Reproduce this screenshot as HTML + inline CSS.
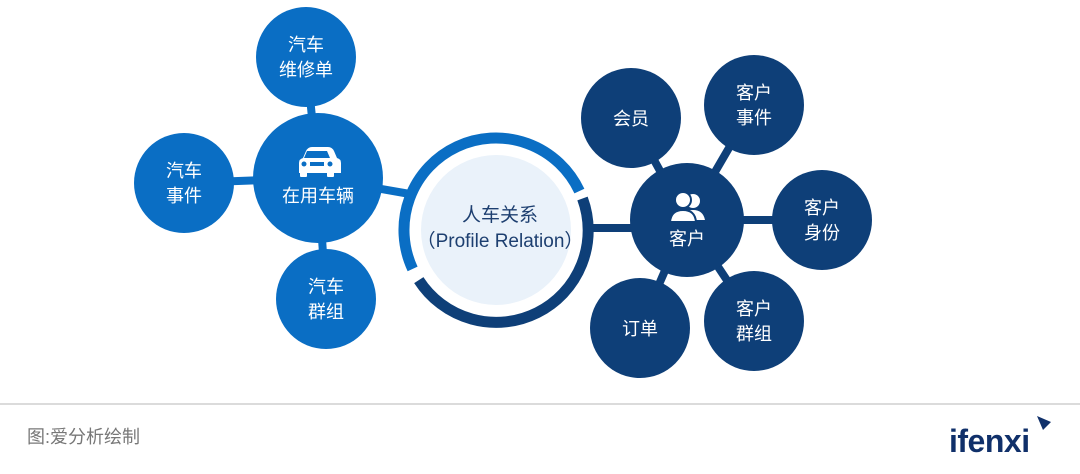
<!DOCTYPE html>
<html><head><meta charset="utf-8"><style>
body{margin:0;background:#fff;width:1080px;height:469px;overflow:hidden}
svg text{font-family:"Liberation Sans","Noto Sans CJK SC",sans-serif}
</style></head><body>
<svg width="1080" height="469" viewBox="0 0 1080 469">
<g stroke="#0a6ec4" stroke-width="8">
<line x1="318" y1="178" x2="306" y2="57"/>
<line x1="318" y1="178" x2="184" y2="183"/>
<line x1="318" y1="178" x2="326" y2="299"/>
<line x1="318" y1="178" x2="410" y2="194"/>
</g>
<g stroke="#0e3f78" stroke-width="8">
<line x1="687" y1="220" x2="631" y2="118"/>
<line x1="687" y1="220" x2="754" y2="105"/>
<line x1="687" y1="220" x2="822" y2="220"/>
<line x1="687" y1="220" x2="754" y2="321"/>
<line x1="687" y1="220" x2="640" y2="328"/>
<line x1="687" y1="228" x2="590" y2="228"/>
</g>
<g fill="#0a6ec4">
<circle cx="318" cy="178" r="65"/>
<circle cx="306" cy="57" r="50"/>
<circle cx="184" cy="183" r="50"/>
<circle cx="326" cy="299" r="50"/>
</g>
<g fill="#0e3f78">
<circle cx="687" cy="220" r="57"/>
<circle cx="631" cy="118" r="50"/>
<circle cx="754" cy="105" r="50"/>
<circle cx="822" cy="220" r="50"/>
<circle cx="754" cy="321" r="50"/>
<circle cx="640" cy="328" r="50"/>
</g>
<circle cx="496" cy="230" r="92" fill="#fff"/>
<circle cx="496" cy="230" r="75" fill="#eaf2fa"/>
<path d="M 579.4 191.1 A 92 92 0 1 0 412.6 268.9" fill="none" stroke="#0a6ec4" stroke-width="11"/>
<path d="M 582.5 198.5 A 92 92 0 0 1 418.8 280.1" fill="none" stroke="#0e3f78" stroke-width="11"/>
<g fill="#1d3f70" font-size="19" text-anchor="middle">
<text x="500" y="221">人车关系</text>
<text x="500" y="247">（Profile Relation）</text>
</g>
<g fill="#fff" font-size="18" text-anchor="middle">
<text x="306" y="51">汽车</text><text x="306" y="76">维修单</text>
<text x="184" y="177">汽车</text><text x="184" y="202">事件</text>
<text x="326" y="293">汽车</text><text x="326" y="318">群组</text>
<text x="318" y="202">在用车辆</text>
<text x="687" y="245">客户</text>
<text x="631" y="125">会员</text>
<text x="754" y="99">客户</text><text x="754" y="124">事件</text>
<text x="822" y="214">客户</text><text x="822" y="239">身份</text>
<text x="754" y="315">客户</text><text x="754" y="340">群组</text>
<text x="640" y="335">订单</text>
</g>
<g fill="#fff">
<path d="M306 147 h22 q4 0 6 4 l3 7 q4 1 4 5 v10 h-42 v-10 q0 -4 4 -5 l3 -7 q2 -4 6 -4z"/>
<rect x="300" y="172" width="7" height="5" rx="1"/><rect x="327" y="172" width="7" height="5" rx="1"/>
</g>
<path d="M307 151 h20 l3 7 h-26z" fill="#0a6ec4"/>
<circle cx="304" cy="164" r="2.5" fill="#0a6ec4"/><circle cx="330" cy="164" r="2.5" fill="#0a6ec4"/>
<rect x="310" y="162" width="14" height="4" fill="#0a6ec4"/>
<g fill="#fff">
<circle cx="693" cy="201" r="7"/>
<path d="M683 220 q1 -10 10 -10 q10 0 12 10z"/>
<circle cx="683" cy="200" r="8" stroke="#0e3f78" stroke-width="2"/>
<path d="M670 222 q1 -12 13 -12 q12 0 13 12z" stroke="#0e3f78" stroke-width="2"/>
</g>
<line x1="0" y1="404" x2="1080" y2="404" stroke="#cfcfcf" stroke-width="1.5"/>
<text x="27" y="443" font-size="18" fill="#777">图:爱分析绘制</text>
<text x="949" y="452" font-size="32" font-weight="bold" fill="#10306a" letter-spacing="-0.5">ifenxi</text>
<path d="M1037 416 l14 6 l-8 8z" fill="#10306a"/>
</svg>
</body></html>
